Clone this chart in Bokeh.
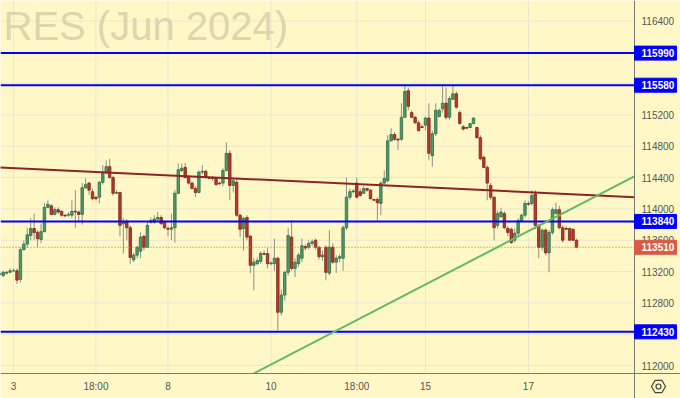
from bokeh.plotting import figure
from bokeh.models import Range1d, Label, ColumnDataSource
from bokeh.core.properties import value
from bokeh.embed import file_html
from bokeh.resources import INLINE

# ---- data ----
opens = [
    113160, 113150, 113180, 113190, 113210, 113210, 113100, 113480, 113550, 113660,
    113750, 113700, 113610, 113710, 114020, 114040, 113930, 113990, 113970, 113920,
    113920, 113920, 113970, 113960, 113930, 114270, 114330, 114220, 114150, 114150,
    114340, 114470, 114540, 114400, 114200, 114210, 113810, 113830, 113760, 113350,
    113410, 113460, 113650, 113510, 113830, 113830, 113870, 113890, 113830, 113750,
    113740, 113760, 114200, 114490, 114530, 114400, 114330, 114260, 114210, 114470,
    114480, 114400, 114400, 114390, 114330, 114330, 114490, 114710, 114300, 114340,
    113920, 113750, 113890, 113650, 113280, 113300, 113330, 113430, 113430, 113300,
    113300, 113370, 112680, 112900, 113190, 113640, 113240, 113300, 113370, 113520,
    113510, 113560, 113600, 113510, 113390, 113510, 113180, 113510, 113320, 113370,
    113370, 113760, 114150, 114220, 114330, 114220, 114200, 114260, 114240, 114120,
    114120, 114070, 114330, 114360, 114870, 114950, 114890, 114890, 115170, 115510,
    115230, 115170, 115100, 115050, 115070, 115160, 114680, 114960, 115180, 115280,
    115350, 115170, 115400, 115470, 115230, 115050, 115040, 115040, 115090, 115040,
    114910, 114660, 114530, 114300, 114150, 113790, 113900, 113940, 113750, 113740,
    113600, 113690, 113850, 113920, 114070, 114070, 114190, 113790, 113510, 113730,
    113440, 113700, 113940, 113990, 113760, 113750, 113750, 113740, 113600,
]
highs = [
    113200, 113210, 113210, 113240, 113240, 113240, 113510, 113600, 113760, 113880,
    113940, 113730, 113810, 114080, 114110, 114060, 114020, 114020, 113980, 113930,
    113960, 114110, 114240, 113980, 114330, 114390, 114340, 114260, 114160, 114360,
    114560, 114620, 114640, 114420, 114240, 114220, 113880, 113870, 113790, 113440,
    113530, 113700, 113670, 113850, 113890, 113920, 113960, 113920, 113850, 113780,
    113940, 114240, 114580, 114580, 114590, 114430, 114350, 114290, 114490, 114560,
    114500, 114420, 114420, 114400, 114350, 114520, 114850, 114750, 114390, 114380,
    113940, 113900, 113920, 113670, 113370, 113380, 113460, 113470, 113500, 113330,
    113620, 113390, 112970, 113210, 113760, 113850, 113370, 113440, 113620, 113550,
    113600, 113610, 113620, 113530, 113470, 113530, 113730, 113560, 113410, 113420,
    113790, 114400, 114260, 114250, 114400, 114260, 114290, 114270, 114250, 114130,
    114150, 114350, 114490, 114940, 115030, 114980, 114910, 115350, 115580, 115550,
    115260, 115190, 115130, 115080, 115180, 115350, 115000, 115350, 115280, 115580,
    115550, 115440, 115580, 115500, 115260, 115070, 115050, 115100, 115170, 115050,
    114940, 114680, 114560, 114330, 114160, 113980, 114010, 113970, 113780, 113760,
    113750, 113880, 113940, 114110, 114100, 114240, 114240, 113810, 113750, 113750,
    113730, 114020, 114080, 114040, 113790, 113780, 113760, 113750, 113620,
]
lows = [
    113140, 113130, 113160, 113180, 113200, 113040, 113060, 113470, 113500, 113600,
    113600, 113510, 113560, 113700, 114010, 113920, 113920, 113940, 113900, 113900,
    113900, 113880, 113760, 113830, 113800, 114260, 114180, 114110, 114110, 114070,
    114310, 114440, 114390, 114170, 114190, 113650, 113430, 113600, 113300, 113320,
    113370, 113370, 113470, 113500, 113810, 113810, 113850, 113800, 113740, 113650,
    113600, 113570, 114190, 114470, 114390, 114310, 114250, 114150, 114200, 114440,
    114390, 114390, 114360, 114300, 114310, 114290, 114480, 114110, 114210, 113900,
    113640, 113470, 113600, 113180, 112960, 113280, 113300, 113410, 113240, 113280,
    113210, 112450, 112640, 112830, 113150, 113210, 113130, 113260, 113320, 113470,
    113480, 113530, 113480, 113350, 113340, 113090, 113150, 113300, 113180, 113320,
    113210, 113730, 114120, 114200, 114130, 114160, 114190, 114220, 114120, 114110,
    113850, 113920, 114310, 114340, 114860, 114870, 114750, 114870, 115160, 115260,
    115160, 115090, 114990, 115040, 115000, 114620, 114540, 114930, 115170, 115230,
    115140, 115140, 115390, 115280, 115080, 115000, 115030, 115030, 115080, 114900,
    114620, 114520, 114110, 114110, 113600, 113750, 113890, 113740, 113650, 113550,
    113570, 113660, 113830, 113890, 114040, 114040, 113740, 113370, 113470, 113410,
    113190, 113670, 113930, 113740, 113570, 113730, 113590, 113590, 113500,
]
closes = [
    113180, 113190, 113190, 113210, 113210, 113090, 113480, 113550, 113670, 113750,
    113700, 113620, 113710, 114020, 114060, 113930, 113990, 113960, 113920, 113910,
    113930, 113970, 113960, 113930, 114270, 114310, 114240, 114130, 114130, 114340,
    114470, 114540, 114400, 114200, 114210, 113790, 113840, 113760, 113380, 113410,
    113510, 113640, 113510, 113790, 113850, 113870, 113890, 113810, 113760, 113740,
    113760, 114200, 114500, 114520, 114400, 114330, 114260, 114210, 114470, 114480,
    114400, 114390, 114390, 114310, 114320, 114490, 114710, 114300, 114360, 113920,
    113740, 113880, 113640, 113280, 113320, 113340, 113430, 113420, 113300, 113310,
    113370, 112680, 112900, 113190, 113660, 113240, 113320, 113410, 113530, 113500,
    113560, 113580, 113510, 113390, 113410, 113190, 113510, 113320, 113370, 113390,
    113760, 114150, 114220, 114230, 114150, 114170, 114260, 114240, 114130, 114110,
    114080, 114330, 114390, 114870, 114950, 114890, 114880, 115170, 115500, 115310,
    115170, 115100, 115000, 115040, 115160, 114710, 114960, 115260, 115260, 115350,
    115170, 115410, 115470, 115300, 115090, 115020, 115030, 115090, 115160, 114910,
    114640, 114530, 114330, 114150, 113760, 113940, 113960, 113760, 113700, 113570,
    113690, 113850, 113920, 114070, 114060, 114170, 113790, 113510, 113730, 113440,
    113700, 113990, 113990, 113760, 113600, 113740, 113600, 113600, 113510,
]

time_tick_pos = [4, 28, 49, 79, 104, 124, 154]
time_tick_labels = ["3", "18:00", "8", "10", "18:00", "15", "17"]
price_ticks = [112000, 112400, 112800, 113200, 113600, 114000, 114400,
               114800, 115200, 115600, 116000, 116400]
level_prices = [115990, 115580, 113840, 112430]
last_price = 113510
resist_x = [0, 185]
resist_y = [114530, 114150]
support_x = [74, 185]
support_y = [111900, 114420]
title_text = "RES (Jun 2024)"

# ---- layout / styling (pixel geometry of the TradingView-like frame) ----
W, H = 680, 398
AXIS_X_PX, AXIS_Y_PX = 634, 373     # price-axis line column, time-axis line row
X0, X_AXIS = 0.2, 184.9             # data x at left edge and at the axis line
Y_TOP, Y_AXIS = 116662, 111898      # price at top edge and at the time-axis line
XU = (X_AXIS - X0) / AXIS_X_PX
YU = (Y_TOP - Y_AXIS) / AXIS_Y_PX


def px(v):
    return X0 + v * XU


def py(v):
    return Y_TOP - v * YU


BG = "#FFF8C6"
GRID = "#E9E5D2"
UP_FILL, UP_LINE = "#4F9A6A", "#2E6A45"
DN_FILL, DN_LINE = "#B83A2C", "#7C2217"
WICK = "#8E8E8A"
AXIS_LINE = "#7A7A72"
AXIS_TXT = "#555555"
FONT = "Liberation Sans"

idx = list(range(len(opens)))
up = [c >= o for o, c in zip(opens, closes)]
src = ColumnDataSource(dict(
    x=idx, o=opens, h=highs, l=lows, c=closes,
    top=[max(o, c) for o, c in zip(opens, closes)],
    bot=[min(o, c) for o, c in zip(opens, closes)],
    fill=[UP_FILL if u else DN_FILL for u in up],
    line=[UP_LINE if u else DN_LINE for u in up],
))

p = figure(width=W, height=H, output_backend="svg", toolbar_location=None,
           x_range=Range1d(X0, px(W)), y_range=Range1d(py(H), Y_TOP),
           x_axis_location=None, y_axis_location=None,
           min_border=0)
p.background_fill_color = BG
p.border_fill_color = BG
p.outline_line_color = None
p.xgrid.grid_line_color = None
p.ygrid.grid_line_color = None

# grid (stops at the axes)
p.segment(x0=[X0] * len(price_ticks), x1=[X_AXIS] * len(price_ticks),
          y0=price_ticks, y1=price_ticks, line_color=GRID, line_width=1)
p.segment(x0=time_tick_pos, x1=time_tick_pos,
          y0=[Y_AXIS] * len(time_tick_pos), y1=[Y_TOP] * len(time_tick_pos),
          line_color=GRID, line_width=1)

# candles
p.segment(x0="x", y0="h", x1="x", y1="l", source=src, line_color=WICK, line_width=1)
p.vbar(x="x", top="top", bottom="bot", width=0.72, source=src,
       fill_color="fill", line_color="line", line_width=0.8)

# level lines
p.segment(x0=[X0] * len(level_prices), x1=[X_AXIS] * len(level_prices),
          y0=level_prices, y1=level_prices, line_color="#0000FF", line_width=2)
p.segment(x0=[X0], x1=[X_AXIS], y0=[last_price], y1=[last_price],
          line_color="#E0603E", line_width=1, line_dash="1 2")

# trend lines
p.line(resist_x, resist_y, line_color="#8B2424", line_width=2)
p.line(support_x, support_y, line_color="#62B866", line_width=2)

# axis lines (crossing at the bottom-right corner)
p.segment(x0=[X_AXIS, X0], x1=[X_AXIS, px(W)], y0=[py(H), Y_AXIS], y1=[Y_TOP, Y_AXIS],
          line_color=AXIS_LINE, line_width=1)

# time axis labels
p.text(x=time_tick_pos, y=[py(AXIS_Y_PX + 12.5)] * len(time_tick_pos),
       text=time_tick_labels, text_font=value(FONT), text_font_size="10px",
       text_color=AXIS_TXT, text_baseline="middle", text_align="center")

# price axis labels
p.text(x=[px(AXIS_X_PX + 7)] * len(price_ticks), y=price_ticks,
       text=[str(t) for t in price_ticks], text_font=value(FONT),
       text_font_size="10px", text_color=AXIS_TXT,
       text_baseline="middle", text_align="left")

# price tags on the axis
tag_prices = level_prices + [last_price]
tag_colors = ["#0000FF"] * len(level_prices) + ["#DA5A44"]
p.rect(x=[px(AXIS_X_PX + 21)] * len(tag_prices), y=tag_prices, width=42, height=14,
       width_units="screen", height_units="screen", fill_color=tag_colors,
       line_color=tag_colors)
p.text(x=[px(AXIS_X_PX + 7)] * len(tag_prices), y=tag_prices,
       text=[str(t) for t in tag_prices], text_font=value(FONT),
       text_font_size="10px", text_font_style="bold", text_color="white",
       text_baseline="middle", text_align="left")

# settings icon in the corner
p.scatter(x=[px(658)], y=[py(386)], marker="hex", size=14, fill_color=None,
          line_color="#444444", line_width=1.2)
p.scatter(x=[px(658)], y=[py(386)], marker="circle", size=5, fill_color=None,
          line_color="#444444", line_width=1.2)

# watermark
p.add_layout(Label(x=3, y=395, x_units="screen", y_units="screen", text=title_text,
                   text_font=FONT, text_font_size="40px", text_color="#DCD6AE",
                   text_baseline="top", text_align="left"))

open("out.html", "w").write(file_html(p, INLINE))
